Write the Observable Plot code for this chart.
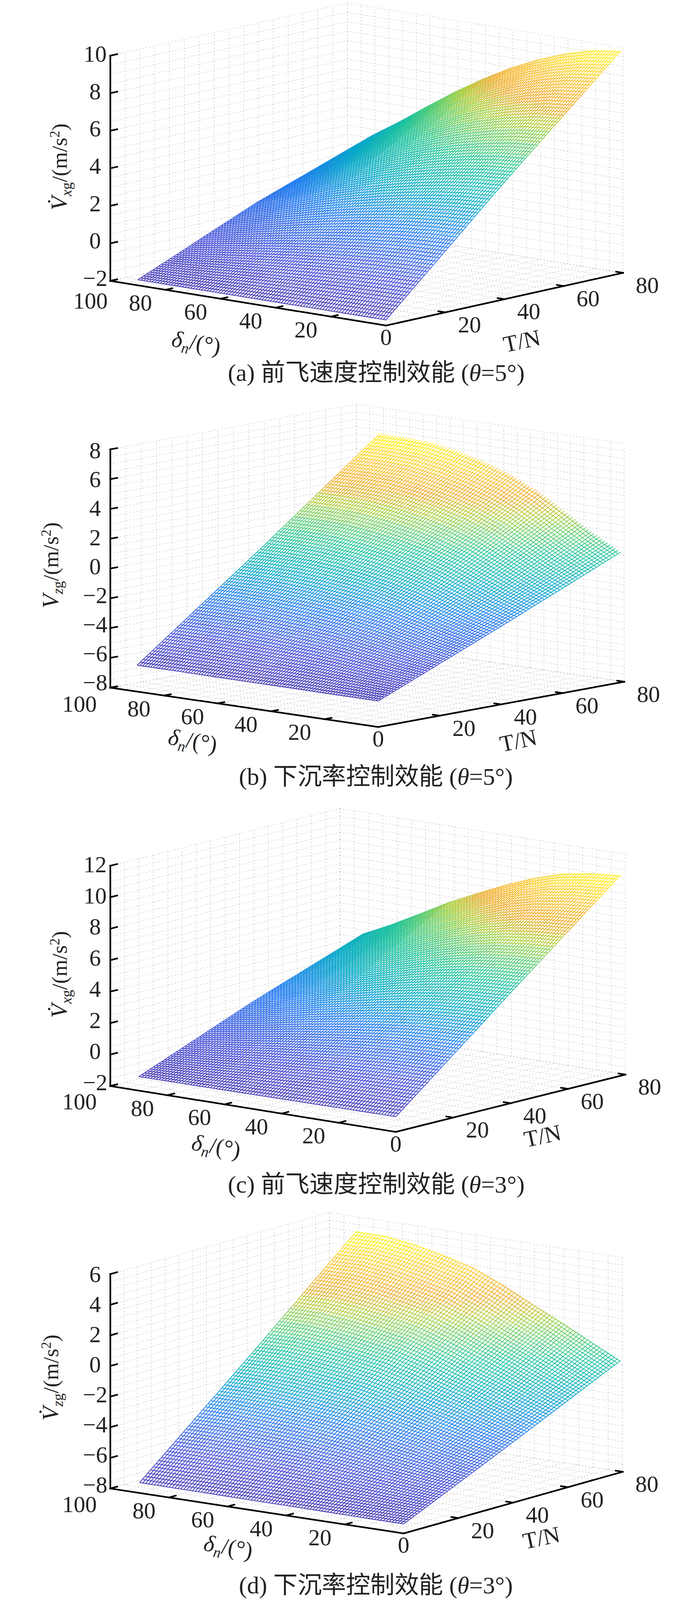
<!DOCTYPE html>
<html><head><meta charset="utf-8">
<script src="https://cdn.jsdelivr.net/npm/d3@7"></script>
<script src="https://cdn.jsdelivr.net/npm/@observablehq/plot@0.6"></script>
<style>html,body{margin:0;padding:0;background:#fff;overflow:hidden}svg{display:block;max-width:none!important}</style>
</head><body><div id="root"></div>
<script>
// Values. Rows hold z at T = 0, 40, Tmax for each delta sample.
// The fine mesh is a rendering subdivision of these read tables, not extra data.
const deltaSamples = [0,10,20,30,40,50,60,70,80,90];
const tMaxByPanel = [79.3,78.9,78.3,79.2];
const zA0  = [-1.7,-1.7,-1.7,-1.7,-1.7,-1.7,-1.7,-1.7,-1.7,-1.7];
const zA40 = [4.25,4.15,3.95,3.67,3.33,2.93,2.48,1.98,1.47,1.0];
const zA80 = [9.86,9.66,9.25,8.69,8.0,7.18,6.26,5.25,4.2,3.22];
const zB0  = [-6.25,-6.25,-6.25,-6.24,-6.24,-6.24,-6.24,-6.23,-6.23,-6.23];
const zB40 = [-2.75,-2.25,-1.7,-1.15,-0.72,-0.41,-0.17,-0.01,0.05,0.04];
const zB80 = [0.75,1.73,2.84,3.94,4.79,5.42,5.89,6.22,6.33,6.32];
const zC0  = [-1.03,-1.04,-1.05,-1.06,-1.07,-1.08,-1.09,-1.1,-1.1,-1.11];
const zC40 = [5.03,4.95,4.79,4.51,4.15,3.73,3.3,2.79,2.3,1.86];
const zC80 = [10.75,10.59,10.28,9.72,8.99,8.16,7.3,6.28,5.3,4.41];
const zD0  = [-7.38,-7.38,-7.37,-7.36,-7.35,-7.35,-7.34,-7.33,-7.33,-7.32];
const zD40 = [-4.04,-3.56,-3.07,-2.61,-2.13,-1.72,-1.46,-1.25,-1.11,-1.1];
const zD80 = [-0.70,0.25,1.22,2.13,3.08,3.91,4.41,4.83,5.1,5.11];
const zTicksA = [-2,0,2,4,6,8,10];
const zTicksB = [-8,-6,-4,-2,0,2,4,6,8];
const zTicksC = [-2,0,2,4,6,8,10,12];
const zTicksD = [-8,-6,-4,-2,0,2,4,6];
const deltaTicks = [0,20,40,60,80,100];
const tTicks = [0,20,40,60,80];
const captions = ["(a) 前飞速度控制效能 (θ=5°)","(b) 下沉率控制效能 (θ=5°)","(c) 前飞速度控制效能 (θ=3°)","(d) 下沉率控制效能 (θ=3°)"];
const zLabels = ["Vxg-dot","Vzg-plain","Vxg-dot ","Vzg-dot"];

// Layout of each panel, in reference pixels; compressed below when the window is shorter than the reference.
const refHeight = 5164;
const Sy = Math.min(1, (window.innerHeight || refHeight) / refHeight);
const fontMain = 66 * (1 + Sy) / 2;
const layouts = [
 {h:1290,F:[988,1050],L:[282,906],R:[1595,880],zTop:179,dz:[-8,-4],hundred:[-51,66],zl:[152,538],dl:[502,1106],tl:[1336,1101],cap:[963,1204]},
 {h:1300,F:[968,1056],L:[282,929],R:[1598,910],zTop:160,dz:[-15,4],hundred:[-79,54],zl:[130,534],dl:[493,1101],tl:[1327,1101],cap:[962,1217]},
 {h:1290,F:[1013,1063],L:[282,915],R:[1601,878],zTop:204,dz:[-10,-3],hundred:[-79,52],zl:[152,555],dl:[553,1110],tl:[1389,1077],cap:[963,1234]},
 {h:1284,F:[1033,1068],L:[282,923],R:[1594,869],zTop:231,dz:[-11,2],hundred:[-79,52],zl:[130,565],dl:[584,1112],tl:[1386,1083],cap:[962,1236]}
];
const tables = [[zA0,zA40,zA80],[zB0,zB40,zB80],[zC0,zC40,zC80],[zD0,zD40,zD80]];
const zTicks = [zTicksA,zTicksB,zTicksC,zTicksD];
const rampStops = [0,0.12,0.3,0.42,0.55,0.64,0.71,0.79,0.88,1];
const rampColors = ["#3d32b0","#4248d4","#1f7cf0","#08aac8","#22c49c","#66cf70","#aed040","#f0ac30","#f8c838","#fbf820"];
const serif = '"Liberation Serif","Noto Sans CJK SC",serif';
const ink = "#222";
const rotY = a => Math.atan(Math.tan(a*Math.PI/180)*Sy)*180/Math.PI;

function rich(key){
  const f = fontMain, sub = f*0.64, d = f*0.2, sup = f*0.6, u = f*0.33;
  const V = key.includes("dot") ? "V\u0307" : "V";
  const s = key.startsWith("Vx") ? "x" : "z";
  return `<tspan font-style="italic">${V}</tspan><tspan font-size="${sub}" dy="${d}" font-style="italic">${s}</tspan><tspan font-size="${sub}">g</tspan><tspan font-size="${f*0.94}" dy="${-d}">/(m/s</tspan><tspan font-size="${sup}" dy="${-u}">2</tspan><tspan font-size="${f*0.94}" dy="${u}">)</tspan>`;
}

function panel(i){
  const lay = layouts[i], tab = tables[i], ticks = zTicks[i], Tmax = tMaxByPanel[i];
  const H = lay.h*Sy;
  const Y = y => y*Sy;
  const zMin = d3.min(ticks), zMax = d3.max(ticks);
  const vT = [lay.R[0]-lay.F[0], Y(lay.R[1]-lay.F[1])];
  const vD = [lay.L[0]-lay.F[0], Y(lay.L[1]-lay.F[1])];
  const vZ = Y(lay.zTop - lay.L[1]);
  const norm = v => { const n = Math.hypot(v[0],v[1]); return [v[0]/n, v[1]/n]; };
  const uT = norm(vT), uD = norm(vD);
  const P = (T,d,z) => [lay.F[0]+T/80*vT[0]+d/100*vD[0], Y(lay.F[1])+T/80*vT[1]+d/100*vD[1]+(z-zMin)/(zMax-zMin)*vZ];
  const Tnodes = [0,40,Tmax];
  const S = (T,d) => {
    const fd = Math.min(d/10,8.9999), id = Math.floor(fd), rd = fd-id;
    const j = T<=40?0:1, rt = (T-Tnodes[j])/(Tnodes[j+1]-Tnodes[j]);
    const a = tab[j][id]*(1-rd)+tab[j][id+1]*rd, b = tab[j+1][id]*(1-rd)+tab[j+1][id+1]*rd;
    return a*(1-rt)+b*rt;
  };
  const allZ = tab.flat();
  const zLo = d3.min(allZ), zHi = d3.max(allZ);

  const grid = [];
  const seg = (a,b) => grid.push({x1:a[0],y1:a[1],x2:b[0],y2:b[1]});
  for (let T=0;T<=80;T+=5){ seg(P(T,0,zMin),P(T,100,zMin)); seg(P(T,100,zMin),P(T,100,zMax)); }
  for (let d=0;d<=100;d+=5){ seg(P(0,d,zMin),P(80,d,zMin)); seg(P(80,d,zMin),P(80,d,zMax)); }
  for (let z=zMin;z<=zMax;z+=0.5){ seg(P(0,100,z),P(80,100,z)); seg(P(80,100,z),P(80,0,z)); }

  const outline = [];
  for (let d=0;d<=90;d+=5){ outline.push(P(0,d,S(0,d))); }
  for (let k=0;k<=20;k++){ const T=k/20*Tmax; outline.push(P(T,90,S(T,90))); }
  for (let d=90;d>=0;d-=5){ outline.push(P(Tmax,d,S(Tmax,d))); }
  for (let k=20;k>=0;k--){ const T=k/20*Tmax; outline.push(P(T,0,S(T,0))); }

  const mesh = [];
  const addSeg = (T1,d1,T2,d2) => {
    const z1=S(T1,d1), z2=S(T2,d2), a=P(T1,d1,z1), b=P(T2,d2,z2);
    mesh.push({x1:a[0],y1:a[1],x2:b[0],y2:b[1],z:(z1+z2)/2});
  };
  for (let T=0;T<=Math.floor(Tmax);T+=1) for (let d=0;d<90;d+=5) addSeg(T,d,T,d+5);
  for (let d=0;d<=90;d+=1) for (let k=0;k<20;k++) addSeg(k/20*Tmax,d,(k+1)/20*Tmax,d);

  const axes = [];
  const ax = (a,b) => axes.push({x1:a[0],y1:a[1],x2:b[0],y2:b[1]});
  ax(P(0,100,zMin),P(0,100,zMax)); ax(P(0,100,zMin),P(0,0,zMin)); ax(P(0,0,zMin),P(80,0,zMin));
  const tk = 18;
  const tickDir = (p,u) => ax(p,[p[0]+u[0]*tk,p[1]+u[1]*tk]);
  ticks.forEach(z => tickDir(P(0,100,z),uT));
  deltaTicks.filter(d=>d>0).forEach(d => tickDir(P(0,d,zMin),uT));
  tTicks.filter(t=>t>0).forEach(t => tickDir(P(t,0,zMin),uD));

  const labels = [];
  ticks.forEach(z => { const p=P(0,100,z), f=(z-zMin)/(zMax-zMin);
    labels.push({x:p[0]-39,y:p[1]+Y(lay.dz[0]*(1-f)+lay.dz[1]*f),t:z<0?"\u2212"+(-z):String(z),a:"end"}); });
  deltaTicks.filter(d=>d>0).forEach(d => { const p=P(0,d,zMin), o=d===100?lay.hundred:[-64,43];
    labels.push({x:p[0]+o[0],y:p[1]+Y(o[1]),t:String(d),a:"middle"}); });
  tTicks.forEach(t => { const p=P(t,0,zMin), o=t===0?[0,39]:[62,41];
    labels.push({x:p[0]+o[0],y:p[1]+Y(o[1]),t:String(t),a:"middle"}); });

  const svg = Plot.plot({
    width:1772, height:H, margin:0,
    style:{background:"#fff",fontFamily:serif,maxWidth:"none"},
    x:{domain:[0,1772],range:[0,1772],axis:null},
    y:{domain:[0,H],range:[0,H],axis:null},
    color:{type:"linear",domain:rampStops.map(s=>zLo+s*(zHi-zLo)),range:rampColors},
    marks:[
      Plot.link(grid,{x1:"x1",y1:"y1",x2:"x2",y2:"y2",stroke:"#c4c4c4",strokeWidth:1.7,strokeDasharray:"2.5 6"}),
      Plot.line(outline,{x:d=>d[0],y:d=>d[1],fill:"#fff",stroke:"none"}),
      Plot.link(mesh,{x1:"x1",y1:"y1",x2:"x2",y2:"y2",stroke:"z",strokeWidth:1.9}),
      Plot.link(axes,{x1:"x1",y1:"y1",x2:"x2",y2:"y2",stroke:"#000",strokeWidth:4.2,strokeLinecap:"square"}),
      Plot.text(labels,{x:"x",y:"y",text:"t",textAnchor:d=>d.a,fontSize:fontMain,fill:ink}),
      Plot.text([{x:lay.zl[0],y:Y(lay.zl[1]),t:zLabels[i]}],{x:"x",y:"y",text:"t",rotate:-90,fontSize:fontMain,fill:ink,textAnchor:"middle"}),
      Plot.text([{x:lay.dl[0],y:Y(lay.dl[1]),t:"DELTA"}],{x:"x",y:"y",text:"t",rotate:rotY(12),fontSize:fontMain,fill:ink,textAnchor:"middle"}),
      Plot.text([{x:lay.tl[0],y:Y(lay.tl[1]),t:"T/N"}],{x:"x",y:"y",text:"t",rotate:rotY(-15),fontSize:fontMain,fill:ink,textAnchor:"middle"}),
      Plot.text([{x:lay.cap[0],y:Y(lay.cap[1]),t:captions[i]}],{x:"x",y:"y",text:"t",fontSize:fontMain*1.05,fill:ink,textAnchor:"middle"})
    ]
  });
  svg.querySelectorAll("text").forEach(el => {
    const s = el.textContent;
    if (s.startsWith("Vxg")||s.startsWith("Vzg")) el.innerHTML = rich(s);
    else if (s==="DELTA") el.innerHTML = `<tspan font-style="italic">δ</tspan><tspan font-size="${fontMain*0.64}" font-style="italic" dy="${fontMain*0.2}">n</tspan><tspan dy="${-fontMain*0.2}">/(°)</tspan>`;
    else if (s.includes("θ")) { const [a,b]=s.split("θ"); el.innerHTML = `${a}<tspan font-style="italic">θ</tspan>${b}`; }
  });
  return svg;
}
const root = document.getElementById("root");
layouts.forEach((_,i)=>root.appendChild(panel(i)));
</script></body></html>
